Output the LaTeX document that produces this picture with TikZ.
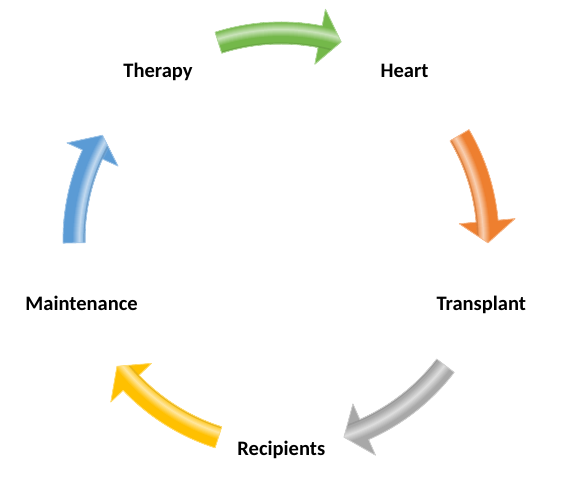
\documentclass[tikz,border=0pt]{standalone}
\usepackage{fontspec}
\setmainfont{Carlito}
\definecolor{cgreen}{HTML}{74B84A}
\definecolor{corange}{HTML}{EE7F2F}
\definecolor{cgray}{HTML}{A8A8A8}
\definecolor{cyellow}{HTML}{FFC000}
\definecolor{cblue}{HTML}{5B9BD5}
\tikzset{
  lbl/.style={font=\fontsize{15.4}{18}\selectfont\bfseries, text=black, anchor=base, inner sep=0pt},
}
% #1 tail angle, #2 tip angle, #3 colour, #4 highlight radial offset
\newcommand\cycarrow[4]{%
  \pgfmathsetmacro\ab{#2+6}%
  \def\arrowpath{(#1:218) arc[start angle=#1, end angle=\ab, radius=218] -- (\ab:235) -- (#2:207) -- (\ab:179) -- (\ab:196) arc[start angle=\ab, end angle=#1, radius=196] -- cycle}%
  \begin{scope}
    \clip \arrowpath;
    \fill[#3] (0,0) circle[radius=240];
    \foreach \r in {178,...,237}{%
      \pgfmathtruncatemacro\m{100-62*max(0,1-abs(\r-207-#4)/7)}%
      \draw[line width=1.6pt, #3!\m!white] (0,0) circle[radius=\r];
    }
    \draw[line width=1.2pt, #3!75!black, opacity=0.35] (0,0) circle[radius=196.8];
  \end{scope}
  \draw[line width=0.6pt, #3!55!white, line join=round] \arrowpath;
}
\begin{document}
\begin{tikzpicture}[x=0.75pt, y=0.75pt]
  \useasboundingbox (0,0) rectangle (561,484);
  \begin{scope}[shift={(281,244)}]
    \cycarrow{107.6}{73.1}{cgreen}{4}
    \cycarrow{30.4}{-0.8}{corange}{-4}
    \cycarrow{-37.4}{-72.3}{cgray}{0}
    \cycarrow{-107.6}{-142.4}{cyellow}{-4}
    \cycarrow{180.8}{149.6}{cblue}{-5}
  \end{scope}
  \node[lbl] (therapy) at (158,406.5) {Therapy};
  \node[lbl] (heart) at (404.5,406.5) {Heart};
  \node[lbl] (transplant) at (481.3,173) {Transplant};
  \node[lbl] (maintenance) at (81.6,173) {Maintenance};
  \node[lbl] (recipients) at (281.3,28) {Recipients};
\end{tikzpicture}
\end{document}
